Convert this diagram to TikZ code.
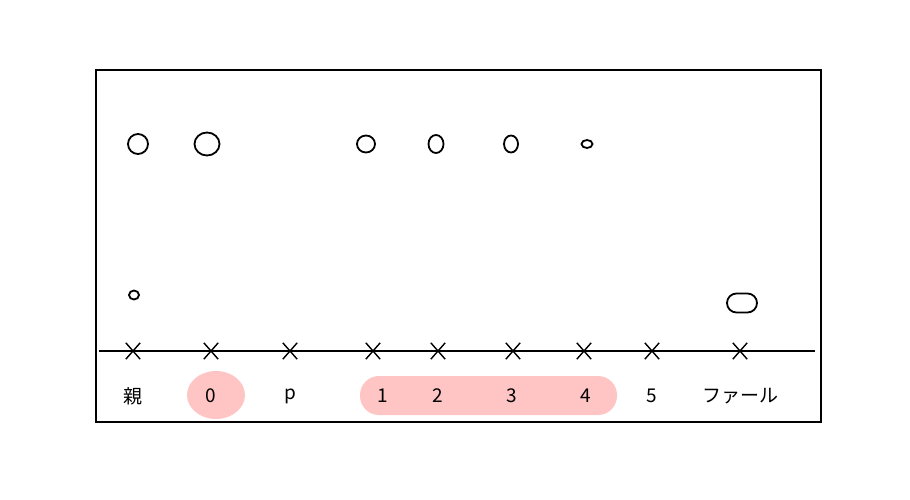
\documentclass[tikz,border=0pt]{standalone}
\usepackage{fontspec}
\newfontfamily\jpfont{Noto Sans CJK JP}
\usetikzlibrary{shapes.misc,shapes.geometric}
\definecolor{hilite}{HTML}{FFC4C4}

\begin{document}
\begin{tikzpicture}[x=1pt, y=-1pt, line width=1.4pt, font=\jpfont\fontsize{19}{22}\selectfont,
		xmark/.style={cross out, draw, minimum width=13pt, minimum height=15pt, inner sep=0pt, line width=1.4pt},
		ring/.style={ellipse, draw, inner sep=0pt, line width=1.8pt}]
		\useasboundingbox (0,0) rectangle (910,500);
		\draw[line width=1.3pt] (96,70) rectangle (821,422);
		% pink highlights
		\fill[hilite] (216,395) ellipse [x radius=29pt, y radius=24pt];
		\fill[hilite, rounded corners=19pt] (360,376) rectangle (617,415);
		\draw (99,351) -- (815,351);
		\foreach \x/\lx/\t [count=\i] in {133/133/親, 211/211/0, 290/290/p, 373/383/1, 438/438/2, 513/512/3, 584/586/4, 652/652/5, 740/740/ファール}{
			\node[xmark] (m\i) at (\x,351) {};
			\node (t\i) at (\lx,396) {\t};
		}
		\foreach \x/\w/\h [count=\i] in {138/20/20, 207/25/23, 366/18/17, 436/15/18, 511/14/17, 587/11/8}{
			\node[ring, minimum width=\w pt, minimum height=\h pt] (c\i) at (\x,144) {};
		}
		\node[ring, minimum width=10pt, minimum height=9pt] (d1) at (134,295) {};
		\node[rounded rectangle, draw, line width=1.8pt, minimum width=30pt, minimum height=19pt, inner sep=0pt] (d2) at (742,303) {};
	\end{tikzpicture}
\end{document}
